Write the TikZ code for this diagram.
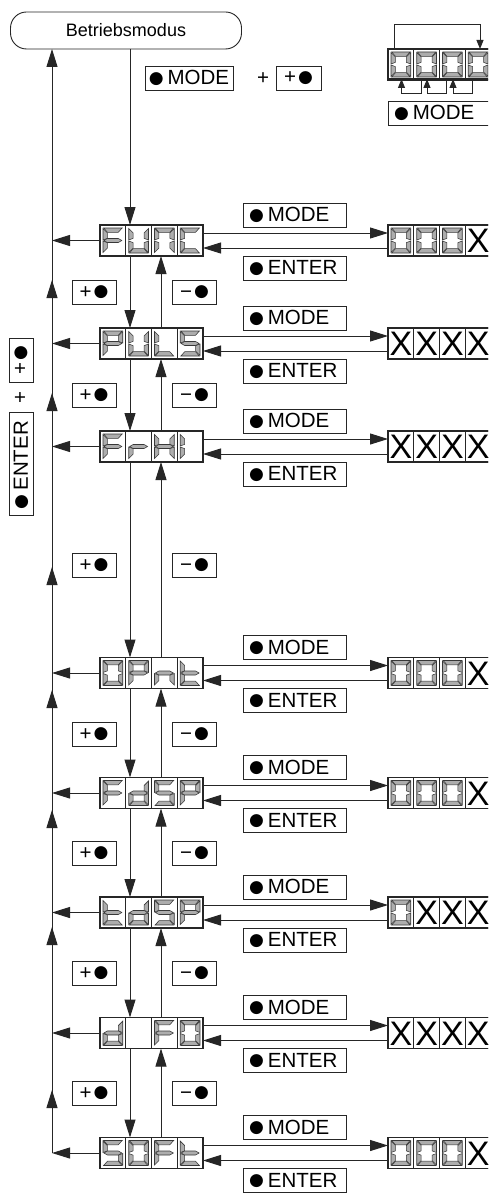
\documentclass[tikz,border=0pt]{standalone}
\usepackage{fontspec}
\setmainfont{Liberation Sans}
\newfontfamily\dotfont{DejaVu Sans}
\newcommand\kdot{\raisebox{1.6pt}{\dotfont\fontsize{17}{20}\selectfont ●}}
\usetikzlibrary{arrows.meta,calc}
\newcommand\SEGa{\filldraw[seg] (3.6,3) -- (22.15,3) -- (18.25,7.3) -- (7.5,7.3) -- cycle;}
\newcommand\SEGd{\filldraw[seg] (3.6,28) -- (22.15,28) -- (18.25,23.7) -- (7.5,23.7) -- cycle;}
\newcommand\SEGf{\filldraw[seg] (3,3.6) -- (7.3,7.9) -- (7.3,13.4) -- (3,15) -- cycle;}
\newcommand\SEGe{\filldraw[seg] (3,16) -- (7.3,17.6) -- (7.3,23.1) -- (3,27.4) -- cycle;}
\newcommand\SEGb{\filldraw[seg] (22.75,3.6) -- (18.45,7.9) -- (18.45,13.4) -- (22.75,15) -- cycle;}
\newcommand\SEGc{\filldraw[seg] (22.75,16) -- (18.45,17.6) -- (18.45,23.1) -- (22.75,27.4) -- cycle;}
\newcommand\SEGg{\filldraw[seg] (3.9,15.5) -- (7.4,13.5) -- (18.35,13.5) -- (21.85,15.5) -- (18.35,17.5) -- (7.4,17.5) -- cycle;}
\newcommand\dcell[3]{\begin{scope}[shift={(#1.north west)},xshift=#2*25.75pt]
  \draw[cellb] (0,0) rectangle (25.75,31);
  \foreach \s in {#3}{\csname SEG\s\endcsname}
\end{scope}}
\newcommand\xcell[2]{\begin{scope}[shift={(#1.north west)},xshift=#2*25.75pt]
  \draw[cellb] (0,0) rectangle (25.75,31);
  \node[xfont] (#1x#2) at (12.875,15.8) {X};
\end{scope}}
\newcommand\keys[2]{\node[wkey] (#1M) at (294.5,#2-25.5) {\kdot\kern4pt MODE};
  \node[wkey] (#1E) at (294.5,#2+27.5) {\kdot\kern4pt ENTER};}
\newcommand\rowlinks[1]{%
  \draw[line,arr] ($(#1.east)+(0,-7.5)$) -- ($(#1R.west)+(0,-7.5)$);
  \draw[line,arr] ($(#1R.west)+(0,7.5)$) -- ($(#1.east)+(0,7.5)$);
  \draw[line,arr] (#1.west) -- (#1.west -| bx);}
\newcommand\gap[4]{%
  \node[skey] (#1P) at (94,#3) {+\kern2pt\kdot};
  \node[skey] (#1N) at (194.5,#3) {−\kern2pt\kdot};
  \draw[line,arr] (#1.south -| dx) -- (#2.north -| dx);
  \draw[line,arr] (#2.north -| ux) -- (#1.south -| ux);
  \coordinate (#1T) at (52,#4);
  \draw[line,arr] (#2.west -| bx) -- (#1T);}
\begin{document}
\begin{tikzpicture}[x=1pt,y=-1pt,
  line/.style={draw=black!85,line width=1pt},
  arr/.style={-{Triangle[length=18pt,width=11pt]}},
  sarr/.style={-{Triangle[length=9pt,width=7pt]}},
  seg/.style={fill=black!32,draw=black!78,line width=0.55pt},
  cellb/.style={draw=black!85,line width=1.1pt},
  disp/.style={draw=black!85,line width=1.1pt,minimum width=103pt,minimum height=31pt,inner sep=0pt,outer sep=0pt,fill=white},
  xfont/.style={font=\fontsize{34}{34}\selectfont,inner sep=0pt},
  key/.style={draw=black!85,line width=0.9pt,fill=white,font=\fontsize{20.5}{24}\selectfont,inner sep=0pt,outer sep=0pt,minimum height=24pt},
  wkey/.style={key,text width=91pt,inner xsep=6pt,align=left},
  skey/.style={key,minimum width=44pt}]
\fill[white] (0,0) rectangle (488,1193);
\useasboundingbox (0,0) rectangle (488,1193);
\clip (0,0) rectangle (488,1193);
\coordinate (bx) at (52,0);
\coordinate (dx) at (130,0);
\coordinate (ux) at (161,0);
% top
\node[draw=black!85,line width=0.9pt,rounded corners=16pt,minimum width=231pt,minimum height=37pt,outer sep=0pt,font=\fontsize{18}{20}\selectfont] (bm) at (126,30.5) {Betriebsmodus};
\node[key,minimum width=88pt] (tmode) at (189,78) {\kdot\kern4pt MODE};
\node[font=\fontsize{20.5}{24}\selectfont,inner sep=0pt] (tplus) at (263,79) {+};
\node[skey,minimum width=45pt] (tkey) at (298.5,78) {+\kern2pt\kdot};
\node[disp,minimum height=30pt] (topd) at (439.5,64) {};
\dcell{topd}{0}{a,b,c,d,e,f}\dcell{topd}{1}{a,b,c,d,e,f}\dcell{topd}{2}{a,b,c,d,e,f}\dcell{topd}{3}{a,b,c,d,e,f}
\draw[line,sarr] ($(topd.north west)+(6,0)$) |- ($(topd.north east)+(-11,-24)$) -- ($(topd.north east)+(-11,0)$);
\draw[line,sarr] ($(topd.south west)+(33.75,0)$) -- ++(0,15) -| ($(topd.south west)+(13.5,0)$);
\draw[line,sarr] ($(topd.south west)+(58.5,0)$) -- ++(0,15) -| ($(topd.south west)+(39,0)$);
\draw[line,sarr] ($(topd.south west)+(84,0)$) -- ++(0,15) -| ($(topd.south west)+(65,0)$);
\node[wkey] (tmk) at (439.5,113) {\kdot\kern4pt MODE};
% left rotated label
\node[skey,rotate=90] (lk1) at (21,360.5) {+\kern2pt\kdot};
\node[font=\fontsize{20.5}{24}\selectfont,inner sep=0pt,rotate=90] (lplus) at (21,398) {+};
\node[wkey,rotate=90] (lk2) at (21,464) {\kdot\kern4pt ENTER};
% rows
\node[disp] (func) at (151.5,240.5) {};
\dcell{func}{0}{a,e,f,g}\dcell{func}{1}{b,c,d,e,f}\dcell{func}{2}{a,b,c,e,f}\dcell{func}{3}{a,d,e,f}
\node[disp] (funcR) at (439.5,240.5) {};
\dcell{funcR}{0}{a,b,c,d,e,f}\dcell{funcR}{1}{a,b,c,d,e,f}\dcell{funcR}{2}{a,b,c,d,e,f}\xcell{funcR}{3}
\keys{func}{240.5}
\node[disp] (puls) at (151.5,343.5) {};
\dcell{puls}{0}{a,b,e,f,g}\dcell{puls}{1}{b,c,d,e,f}\dcell{puls}{2}{d,e,f}\dcell{puls}{3}{a,c,d,f,g}
\node[disp] (pulsR) at (439.5,343.5) {};
\xcell{pulsR}{0}\xcell{pulsR}{1}\xcell{pulsR}{2}\xcell{pulsR}{3}
\keys{puls}{343.5}
\node[disp] (frhi) at (151.5,446.5) {};
\dcell{frhi}{0}{a,e,f,g}\dcell{frhi}{1}{e,g}\dcell{frhi}{2}{b,c,e,f,g}\dcell{frhi}{3}{e,f}
\node[disp] (frhiR) at (439.5,446.5) {};
\xcell{frhiR}{0}\xcell{frhiR}{1}\xcell{frhiR}{2}\xcell{frhiR}{3}
\keys{frhi}{446.5}
\node[disp] (opnt) at (151.5,673) {};
\dcell{opnt}{0}{a,b,c,d,e,f}\dcell{opnt}{1}{a,b,e,f,g}\dcell{opnt}{2}{c,e,g}\dcell{opnt}{3}{d,e,f,g}
\node[disp] (opntR) at (439.5,673) {};
\dcell{opntR}{0}{a,b,c,d,e,f}\dcell{opntR}{1}{a,b,c,d,e,f}\dcell{opntR}{2}{a,b,c,d,e,f}\xcell{opntR}{3}
\keys{opnt}{673}
\node[disp] (fdsp) at (151.5,793) {};
\dcell{fdsp}{0}{a,e,f,g}\dcell{fdsp}{1}{b,c,d,e,g}\dcell{fdsp}{2}{a,c,d,f,g}\dcell{fdsp}{3}{a,b,e,f,g}
\node[disp] (fdspR) at (439.5,793) {};
\dcell{fdspR}{0}{a,b,c,d,e,f}\dcell{fdspR}{1}{a,b,c,d,e,f}\dcell{fdspR}{2}{a,b,c,d,e,f}\xcell{fdspR}{3}
\keys{fdsp}{793}
\node[disp] (tdsp) at (151.5,912.5) {};
\dcell{tdsp}{0}{d,e,f,g}\dcell{tdsp}{1}{b,c,d,e,g}\dcell{tdsp}{2}{a,c,d,f,g}\dcell{tdsp}{3}{a,b,e,f,g}
\node[disp] (tdspR) at (439.5,912.5) {};
\dcell{tdspR}{0}{a,b,c,d,e,f}\xcell{tdspR}{1}\xcell{tdspR}{2}\xcell{tdspR}{3}
\keys{tdsp}{912.5}
\node[disp] (dfo) at (151.5,1033) {};
\dcell{dfo}{0}{b,c,d,e,g}\dcell{dfo}{1}{}\dcell{dfo}{2}{a,e,f,g}\dcell{dfo}{3}{a,b,c,d,e,f}
\node[disp] (dfoR) at (439.5,1033) {};
\xcell{dfoR}{0}\xcell{dfoR}{1}\xcell{dfoR}{2}\xcell{dfoR}{3}
\keys{dfo}{1033}
\node[disp] (soft) at (151.5,1153) {};
\dcell{soft}{0}{a,c,d,f,g}\dcell{soft}{1}{a,b,c,d,e,f}\dcell{soft}{2}{a,e,f,g}\dcell{soft}{3}{d,e,f,g}
\node[disp] (softR) at (439.5,1153) {};
\dcell{softR}{0}{a,b,c,d,e,f}\dcell{softR}{1}{a,b,c,d,e,f}\dcell{softR}{2}{a,b,c,d,e,f}\xcell{softR}{3}
\keys{soft}{1153}
% bus and links
\draw[line,arr] (soft.west -| bx) -- (bm.south -| bx);
\draw[line,arr] (bm.south -| dx) -- (func.north -| dx);
\rowlinks{func}\rowlinks{puls}\rowlinks{frhi}\rowlinks{opnt}\rowlinks{fdsp}\rowlinks{tdsp}\rowlinks{dfo}\rowlinks{soft}
\gap{func}{puls}{292.5}{280}
\gap{puls}{frhi}{395.5}{393}
\gap{frhi}{opnt}{565.5}{567}
\gap{opnt}{fdsp}{734}{690}
\gap{fdsp}{tdsp}{853}{810}
\gap{tdsp}{dfo}{973}{927}
\gap{dfo}{soft}{1093}{1090}
\end{tikzpicture}
\end{document}
